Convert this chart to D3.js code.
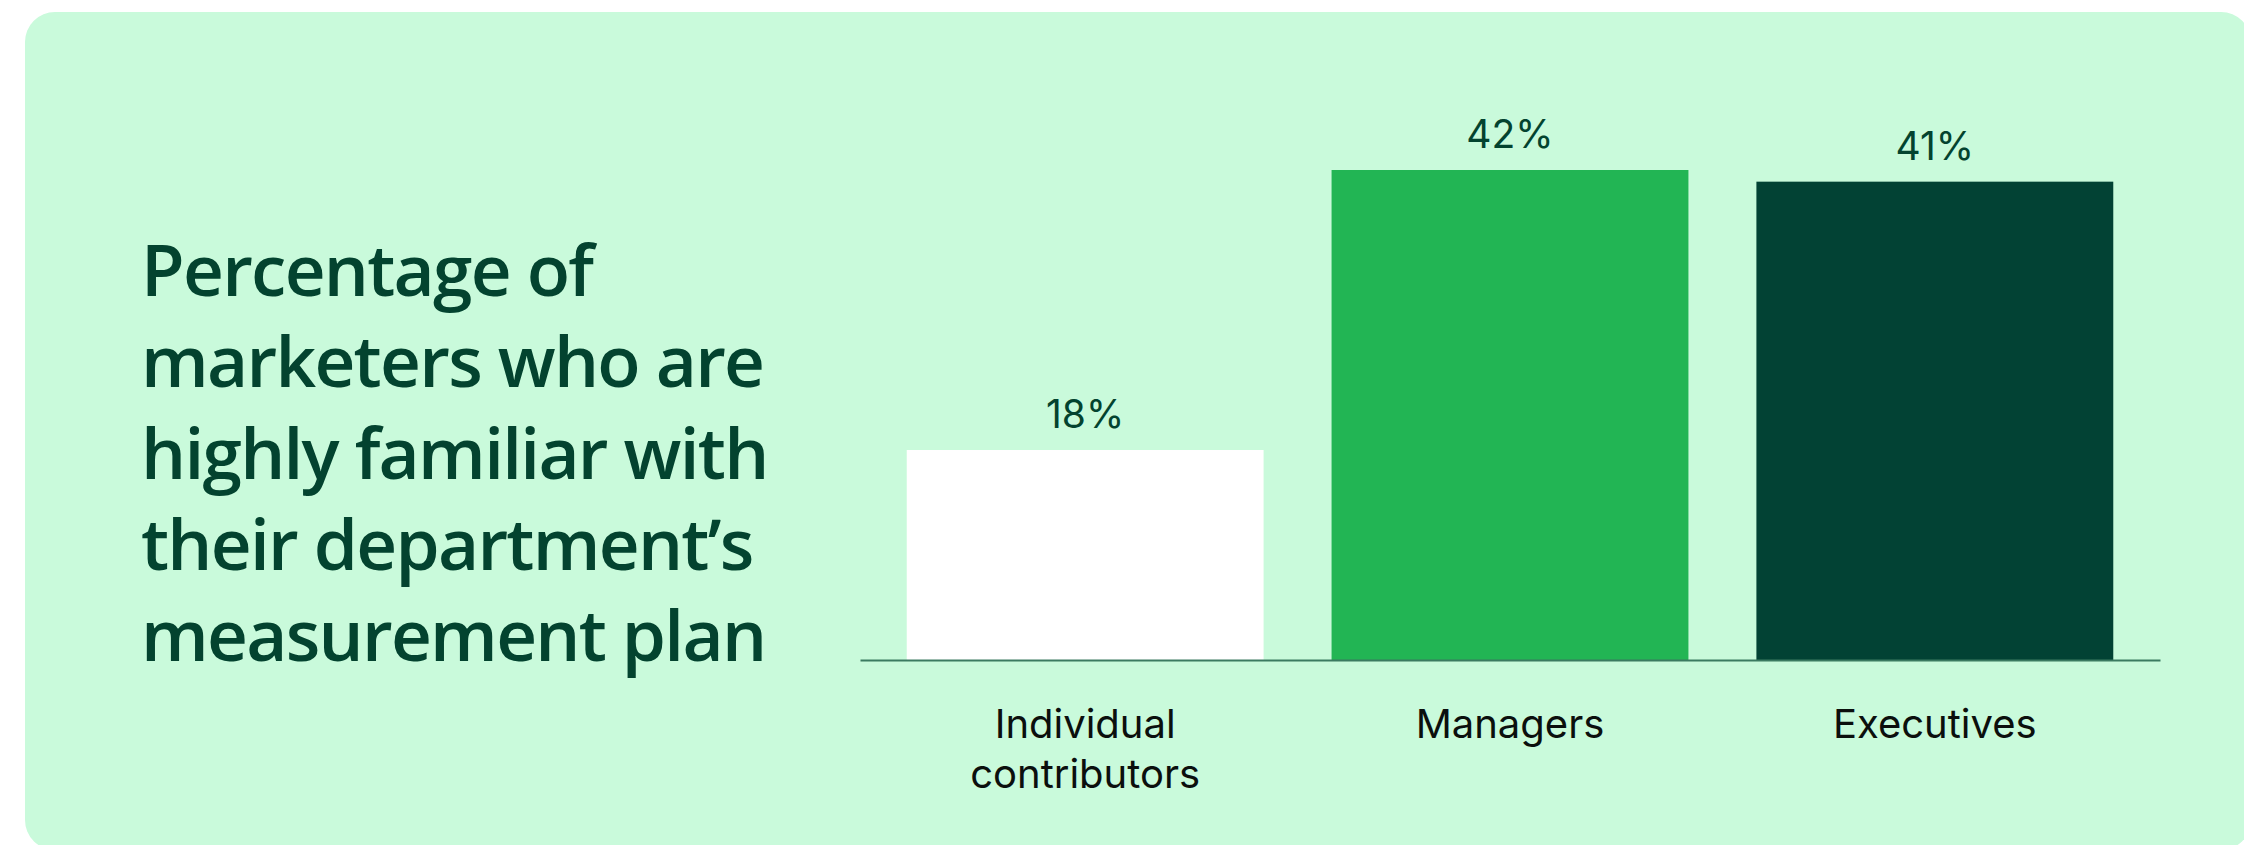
<!DOCTYPE html>
<html>
<head>
<meta charset="utf-8">
<script src="https://cdn.jsdelivr.net/npm/d3@7"></script>
<style>
  html, body { margin: 0; padding: 0; background: #ffffff; }
  svg { display: block; }
</style>
</head>
<body>
<svg id="chart" width="2244" height="845"></svg>
<script>
// chart data
const categories = ['Individual contributors', 'Managers', 'Executives'];
const catLines = [['Individual', 'contributors'], ['Managers'], ['Executives']];
const values = [18, 42, 41];
const barColors = ['#ffffff', '#22b554', '#024234'];
const titleLines = ['Percentage of', 'marketers who are', 'highly familiar with', 'their department\u2019s', 'measurement plan'];

const svg = d3.select('#chart');

// card background
svg.append('rect')
    .attr('x', 25).attr('y', 12)
    .attr('width', 2226).attr('height', 838)
    .attr('rx', 30).attr('ry', 30)
    .attr('fill', '#c9fadb');

// title block on the left
const title = svg.append('text')
    .attr('x', 141)
    .attr('font-family', '"Open Sans", sans-serif')
    .attr('font-weight', 600)
    .attr('font-size', 71)
    .attr('fill', '#03432f');
title.selectAll('tspan')
    .data(titleLines)
    .join('tspan')
    .attr('x', 141)
    .attr('y', (d, i) => 296 + i * 91.3)
    .text(d => d);

// squeeze the letters so the widest line ends where the reference does
const probe = title.selectAll('tspan').nodes()[1];
const natural = probe.getComputedTextLength();
const spacing = (624 - natural) / (titleLines[1].length - 1);
title.attr('letter-spacing', spacing);

// scales
const x = d3.scaleBand()
    .domain(categories)
    .range([860, 2160])
    .paddingInner(0.16)
    .paddingOuter(0.11);

const y = d3.scaleLinear()
    .domain([0, 42])
    .range([660, 170]);

// bars
svg.append('g').selectAll('rect')
    .data(values)
    .join('rect')
    .attr('x', (d, i) => x(categories[i]))
    .attr('y', d => y(d))
    .attr('width', x.bandwidth())
    .attr('height', d => y(0) - y(d))
    .attr('fill', (d, i) => barColors[i]);

// baseline axis
const xAxis = svg.append('g')
    .attr('transform', `translate(0,${y(0)})`)
    .call(d3.axisBottom(x).tickSize(0).tickFormat(''));
xAxis.select('.domain').attr('stroke', '#3b7a61').attr('stroke-width', 2);

// value labels
svg.append('g').selectAll('text')
    .data(values)
    .join('text')
    .attr('x', (d, i) => x(categories[i]) + x.bandwidth() / 2)
    .attr('y', d => y(d) - 22)
    .attr('text-anchor', 'middle')
    .attr('font-family', 'Inter, "Liberation Sans", sans-serif')
    .attr('font-size', 39)
    .attr('fill', '#03432f')
    .text(d => d + '%');

// category labels
const cat = svg.append('g').selectAll('text')
    .data(catLines)
    .join('text')
    .attr('text-anchor', 'middle')
    .attr('font-family', 'Inter, "Liberation Sans", sans-serif')
    .attr('font-size', 40)
    .attr('fill', '#0b0f0d');
cat.selectAll('tspan')
    .data((d, i) => d.map(t => ({ t, i })))
    .join('tspan')
    .attr('x', d => x(categories[d.i]) + x.bandwidth() / 2)
    .attr('y', (d, j) => 738 + j * 50)
    .text(d => d.t);
</script>
</body>
</html>
